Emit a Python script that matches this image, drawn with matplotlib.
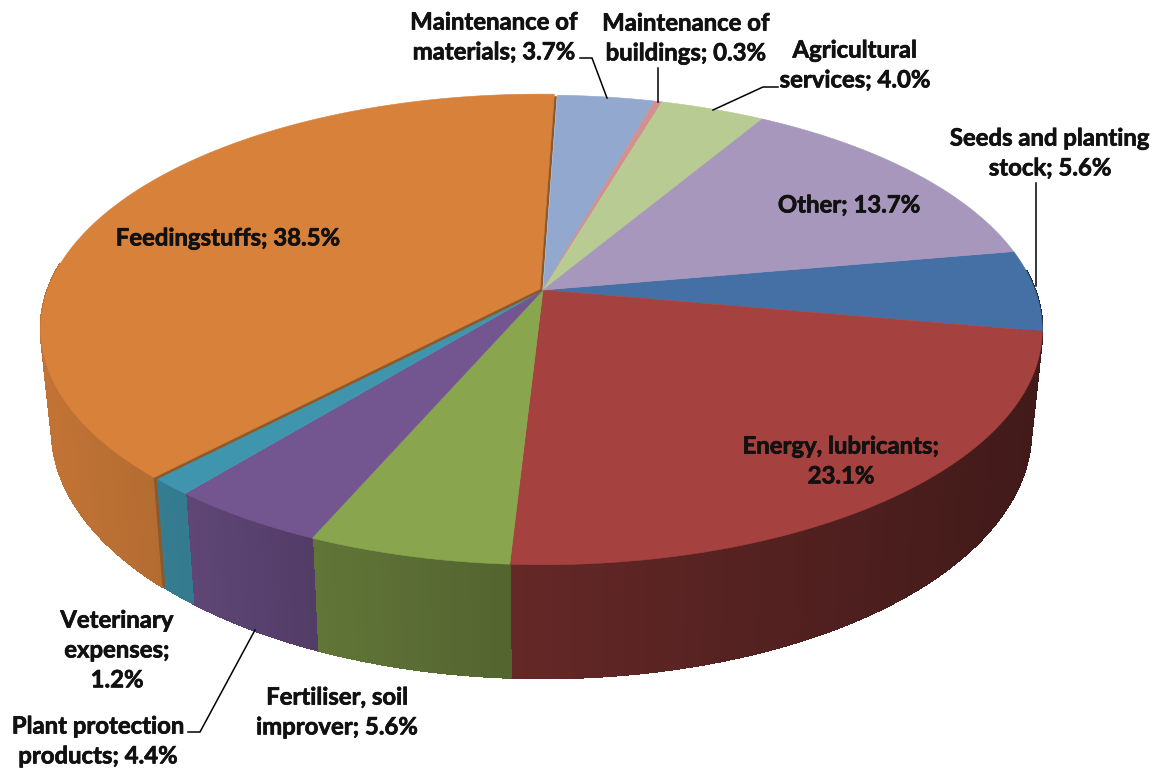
import numpy as np
import matplotlib
matplotlib.use('Agg')
import matplotlib.pyplot as plt
import matplotlib.patheffects as pe
from matplotlib.patches import Polygon

#%% Datos
labels = ['Seeds and planting\nstock; 5.6%', 'Energy, lubricants;\n23.1%', 'Fertiliser, soil\nimprover; 5.6%',
          'Plant protection\nproducts; 4.4%', 'Veterinary\nexpenses;\n1.2%', 'Feedingstuffs; 38.5%',
          'Maintenance of\nmaterials; 3.7%', 'Maintenance of\nbuildings; 0.3%', 'Agricultural\nservices; 4.0%',
          'Other; 13.7%']
values = [5.6, 23.1, 5.6, 4.4, 1.2, 38.5, 3.7, 0.3, 4.0, 13.7]
colors = ['#4570A6', '#A54240', '#89A54E', '#735590', '#4095AE', '#D8813B',
          '#92A8CE', '#D19190', '#B8CB92', '#A797BC']
label_x = [1050, 841, 337, 98, 117, 228, 494, 686, 855, 849]
label_y = [153, 461, 712, 741, 650, 238, 37, 38, 65, 205]

#%% Parametros de la proyeccion
cx, p = 543, 0.17
top_y, top_a, top_r = 290, 228, 492
bot_y, bot_a, bot_r = 389, 240, 481
start = 10.0
explode = 5      # indice de la porcion separada


def ring(t, y0, a, r, off=(0, 0)):
    s, c = np.sin(np.radians(t)), np.cos(np.radians(t))
    return np.column_stack([cx + off[0] + r*c/(1 + p*s), y0 + off[1] - a*s/(1 + p*s)])


def wall_shade(x):
    return np.interp(x, [50, 190, 320, 510, 1030], [0.89, 0.82, 0.71, 0.61, 0.40])


def darker(col, f):
    return np.array(matplotlib.colors.to_rgb(col))*f


#%% Grafico
fig = plt.figure(figsize=(11.64, 7.70), dpi=100)
ax = fig.add_axes([0, 0, 1, 1])
ax.set_xlim(0, 1164)
ax.set_ylim(770, 0)
ax.axis('off')

edges = start - np.cumsum([0] + values)*360/np.sum(values)

# paredes
for i in range(len(values)):
    off = (-3, -1) if i == explode else (0, 0)
    tt = np.arange(edges[i], edges[i+1] - 1.0, -1.0)
    tt = np.append(tt, edges[i+1])
    up = ring(tt, top_y, top_a, top_r, off)
    lo = ring(tt, bot_y, bot_a, bot_r, off)
    for k in range(len(tt) - 1):
        if np.sin(np.radians(tt[k])) > 0.1:
            continue
        col = darker(colors[i], wall_shade(up[k, 0]))
        # borde inferior suavizado
        ax.plot(lo[k:k+2, 0], lo[k:k+2, 1], color=col, lw=1.0, solid_capstyle='round', zorder=0.5)
        ax.add_patch(Polygon([up[k], up[k+1], lo[k+1], lo[k]], closed=True, zorder=0.6,
                             facecolor=col, edgecolor=col, lw=1.0, antialiased=False))
    if i == explode:
        # cara interna de la porcion separada
        a, b = up[0], lo[0]
        ax.add_patch(Polygon([a, a + [3, 0], b + [3, 0], b], closed=True, zorder=0.7,
                             facecolor='#8A5A2C', edgecolor='none'))

# caras superiores
for i in range(len(values)):
    off = (-3, -1) if i == explode else (0, 0)
    tt = np.linspace(edges[i], edges[i+1], 200)
    pts = np.vstack([[cx + off[0], top_y + off[1]], ring(tt, top_y, top_a, top_r, off)])
    if i == explode:
        ax.add_patch(Polygon(pts + [2.5, 2], closed=True, facecolor='#8A5A2C', edgecolor='none'))
    ax.add_patch(Polygon(pts, closed=True, facecolor=colors[i], edgecolor=colors[i], lw=0.4))

# lineas guia
leaders = [([580, 592, 607], [58, 58, 98]),
           ([658, 658], [68, 102]),
           ([778, 763, 713], [87, 87, 110]),
           ([1036, 1036], [183, 286]),
           ([188, 200, 255], [732, 732, 630])]
for lx, ly in leaders:
    ax.plot(lx, ly, color='black', lw=1.1, solid_joinstyle='miter')

for name, x, y in zip(labels, label_x, label_y):
    ax.text(x, y, name, ha='center', va='center', family='Lato', fontweight='bold',
            fontsize=17.2, color='#111111', linespacing=1.36,
            path_effects=[pe.withStroke(linewidth=0.5, foreground='#111111')])

fig.savefig('out.png', dpi=100)
